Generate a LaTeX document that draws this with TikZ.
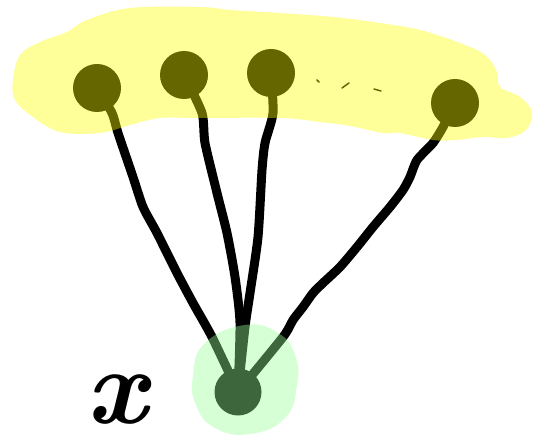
\documentclass[tikz,border=0pt]{standalone}
\begin{document}
\begin{tikzpicture}[x=1pt,y=-1pt,
  unit/.style={circle,fill=black,minimum size=48pt,inner sep=0pt},
  wire/.style={line width=9pt,line cap=round,line join=round},
  tick/.style={line width=1.5pt,line cap=round},
  hlyellow/.style={fill={rgb,255:red,255;green,255;blue,0},opacity=0.4},
  hlgreen/.style={fill={rgb,255:red,153;green,255;blue,153},opacity=0.4},
  bigletter/.style={font=\fontsize{108}{108}\selectfont\bfseries\itshape,inner sep=0pt}]
\useasboundingbox (0,0) rectangle (534,435);
% nodes
\node[unit] (h1) at (97,88) {};
\node[unit] (h2) at (184,75) {};
\node[unit] (h3) at (271,73) {};
\node[unit] (h4) at (455,103) {};
\node[unit,minimum size=47pt] (xin) at (238,392) {};
\node[bigletter] (lbl) at (117,400) {x};
% connectors
\draw[wire] plot[smooth,tension=0.4] coordinates {(h1.center) (112,113) (118,133) (133,177) (143,207) (157,233) (177,273) (193,303) (212,337) (xin.center)};
\draw[wire] plot[smooth,tension=0.4] coordinates {(h2.center) (202,113) (205,143) (217,193) (227,233) (235,277) (240,323) (xin.center)};
\draw[wire] plot[smooth,tension=0.4] coordinates {(h3.center) (273,113) (265,143) (262,170) (258,237) (250,293) (245,327) (xin.center)};
\draw[wire] plot[smooth,tension=0.4] coordinates {(h4.center) (443,127) (433,143) (417,160) (410,177) (403,190) (390,207) (373,227) (357,247) (340,267) (323,283) (313,293) (303,307) (293,320) (283,337) (xin.center)};
% ellipsis ticks
\coordinate (d1) at (317,80); \coordinate (d1e) at (319,82);
\coordinate (d2) at (342,88); \coordinate (d2e) at (349,83);
\coordinate (d3) at (374,89); \coordinate (d3e) at (381,91);
\draw[tick] (d1) -- (d1e);
\draw[tick] (d2) -- (d2e);
\draw[tick] (d3) -- (d3e);
% highlights
\fill[hlyellow] plot[smooth cycle,tension=0.6] coordinates {(13,80) (20,55) (40,42) (67,32) (87,20) (130,8) (200,7) (230,10) (280,13) (333,17) (380,23) (420,30) (460,43) (485,55) (497,72) (500,87) (520,97) (532,112) (526,130) (507,138) (483,137) (455,140) (433,140) (400,133) (383,133) (350,126) (320,122) (280,118) (200,118) (160,118) (130,125) (100,133) (60,132) (33,117) (15,100)};
\fill[hlgreen] plot[smooth cycle,tension=0.8] coordinates {(245,325) (278,333) (295,355) (297,385) (285,418) (250,434) (215,428) (196,405) (193,375) (205,343)};
\end{tikzpicture}
\end{document}
